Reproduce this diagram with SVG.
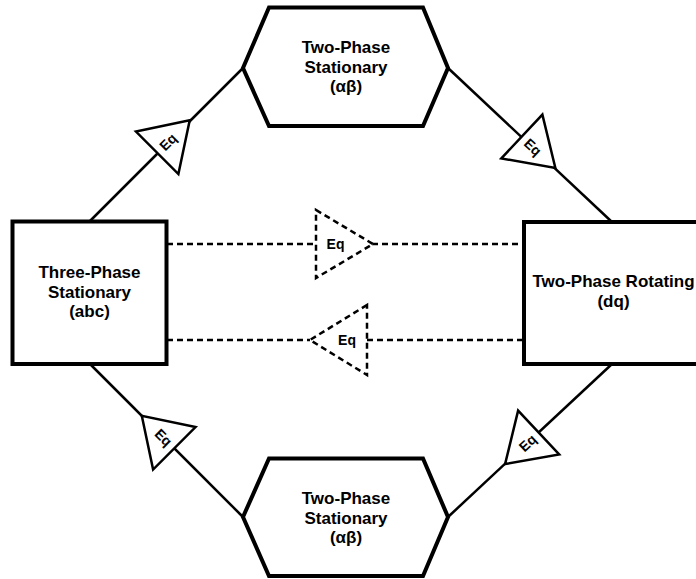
<svg xmlns="http://www.w3.org/2000/svg" width="696" height="579" viewBox="0 0 696 579">
<style>
.node{fill:#fff;stroke:#000;stroke-width:4;stroke-linejoin:miter}
.lbl{font-family:"Liberation Sans",Arial,sans-serif;font-weight:bold;font-size:17px;text-anchor:middle;fill:#000}
.eq{font-family:"Liberation Sans",Arial,sans-serif;font-weight:bold;font-size:14px;text-anchor:middle;fill:#000}
.line{stroke:#000;stroke-width:2.5;fill:none}
.dash{stroke:#000;stroke-width:2.5;fill:none;stroke-dasharray:6 4}
.tri{fill:#fff;stroke:#000;stroke-width:2.5;stroke-linejoin:miter}
.dtri{fill:#fff;stroke:#000;stroke-width:2.5;stroke-dasharray:6 4;stroke-linejoin:miter}
</style>
<rect width="696" height="579" fill="#fff"/>
<g id="connectors">
<line class="line" x1="90" y1="221" x2="243" y2="68"/>
<line class="line" x1="448" y1="68" x2="612" y2="222"/>
<line class="line" x1="612" y1="364" x2="448" y2="517"/>
<line class="line" x1="243" y1="517" x2="90" y2="364"/>
<line class="dash" x1="167" y1="244" x2="316" y2="244"/>
<line class="dash" x1="372" y1="244" x2="524" y2="244"/>
<line class="dash" x1="167" y1="340" x2="310" y2="340"/>
<line class="dash" x1="367" y1="340" x2="524" y2="340"/>
<g id="eq-abc-ab-top" transform="translate(168,142) rotate(-45)">
<polygon class="tri" points="30.7,0 -15.3,-30 -15.3,30"/>
<text class="eq" x="0" y="5">Eq</text>
</g>
<g id="eq-ab-top-dq" transform="translate(533,147) rotate(43.2)">
<polygon class="tri" points="30.7,0 -15.3,-30 -15.3,30"/>
<text class="eq" x="0" y="5">Eq</text>
</g>
<g id="eq-dq-ab-bottom" transform="translate(527.5,443) rotate(136.8)">
<polygon class="tri" points="30.7,0 -15.3,-30 -15.3,30"/>
<text class="eq" x="0" y="5" transform="rotate(180)">Eq</text>
</g>
<g id="eq-ab-bottom-abc" transform="translate(163.5,437.5) rotate(-135)">
<polygon class="tri" points="30.7,0 -15.3,-30 -15.3,30"/>
<text class="eq" x="0" y="5" transform="rotate(180)">Eq</text>
</g>
<g id="eq-abc-dq">
<polygon class="dtri" points="316,210 373,244 316,278"/>
<text class="eq" x="335.5" y="249">Eq</text>
</g>
<g id="eq-dq-abc">
<polygon class="dtri" points="367,305 310,340 367,375"/>
<text class="eq" x="347" y="345">Eq</text>
</g>
</g>
<g id="abc">
<rect class="node" x="12.5" y="221.5" width="154" height="142.5"/>
<text class="lbl" x="89.5" y="278">Three-Phase</text>
<text class="lbl" x="89.5" y="297.5">Stationary</text>
<text class="lbl" x="89.5" y="317">(abc)</text>
</g>
<g id="dq">
<rect class="node" x="524" y="222" width="180" height="142"/>
<text class="lbl" x="613.5" y="287">Two-Phase Rotating</text>
<text class="lbl" x="613.5" y="307">(dq)</text>
</g>
<g id="ab-top">
<polygon class="node" points="269,7.5 423,7.5 448,68 423,126 269,126 243,68"/>
<text class="lbl" x="346" y="53">Two-Phase</text>
<text class="lbl" x="346" y="72.5">Stationary</text>
<text class="lbl" x="346" y="92">(αβ)</text>
</g>
<g id="ab-bottom">
<polygon class="node" points="269,458.5 423,458.5 448,517 423,576 269,576 243,517"/>
<text class="lbl" x="346" y="504">Two-Phase</text>
<text class="lbl" x="346" y="523.5">Stationary</text>
<text class="lbl" x="346" y="543">(αβ)</text>
</g>
</svg>
